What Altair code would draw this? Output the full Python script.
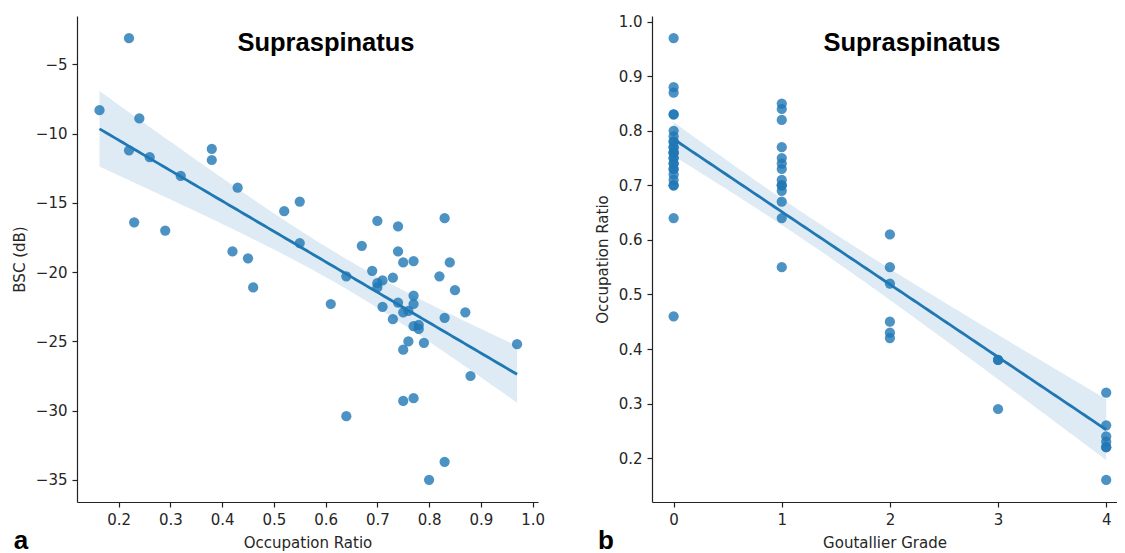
import altair as alt
import numpy as np
import pandas as pd

# ---------- panel a: BSC vs occupation ratio ----------
occ_ratio_a = [0.163, 0.22, 0.24, 0.22, 0.26, 0.23, 0.29, 0.32, 0.38, 0.38,
               0.43, 0.52, 0.55, 0.55, 0.42, 0.45, 0.46, 0.61, 0.64, 0.64,
               0.67, 0.69, 0.70, 0.70, 0.70, 0.71, 0.71, 0.73, 0.73, 0.74,
               0.74, 0.74, 0.75, 0.75, 0.75, 0.75, 0.76, 0.76, 0.77, 0.77,
               0.77, 0.77, 0.77, 0.78, 0.78, 0.79, 0.80, 0.82, 0.83, 0.83,
               0.83, 0.84, 0.85, 0.87, 0.88, 0.97]
bsc_db = [-8.3, -3.1, -8.9, -11.2, -11.7, -16.4, -17.0, -13.05, -11.1, -11.9,
          -13.9, -15.6, -14.9, -17.9, -18.5, -19.0, -21.1, -22.3, -20.3, -30.4,
          -18.1, -19.9, -16.3, -20.8, -21.1, -20.6, -22.5, -20.4, -23.4, -16.7,
          -18.5, -22.2, -19.3, -22.9, -25.6, -29.3, -22.8, -25.0, -19.2, -21.7,
          -22.3, -23.9, -29.1, -23.8, -24.1, -25.1, -35.0, -20.3, -16.1, -23.3,
          -33.7, -19.3, -21.3, -22.9, -27.5, -25.2]

# ---------- panel b: occupation ratio vs Goutallier grade ----------
grade_b = [0, 0, 0, 0, 0, 0, 0, 0, 0, 0, 0, 0, 0, 0, 0, 0, 0, 0, 0, 0, 0, 0, 0, 0, 0, 0,
           1, 1, 1, 1, 1, 1, 1, 1, 1, 1, 1, 1, 1, 1,
           2, 2, 2, 2, 2, 2,
           3, 3, 3,
           4, 4, 4, 4, 4, 4, 4]
occ_ratio_b = [0.97, 0.88, 0.87, 0.83, 0.83, 0.80, 0.79, 0.78, 0.78, 0.77, 0.77, 0.76, 0.76,
               0.76, 0.75, 0.75, 0.74, 0.74, 0.73, 0.73, 0.72, 0.71, 0.70, 0.70, 0.64, 0.46,
               0.85, 0.84, 0.82, 0.77, 0.75, 0.74, 0.73, 0.71, 0.70, 0.70, 0.69, 0.67, 0.64, 0.55,
               0.61, 0.55, 0.52, 0.45, 0.43, 0.42,
               0.38, 0.38, 0.29,
               0.32, 0.26, 0.24, 0.23, 0.22, 0.22, 0.16]

title_text = "Supraspinatus"
BLUE = "#1f77b4"
FONT = "DejaVu Sans"


def fit_band(x, y, n=120):
    x = np.asarray(x, float)
    y = np.asarray(y, float)
    b1, b0 = np.polyfit(x, y, 1)
    xs = np.linspace(x.min(), x.max(), n)
    yhat = b0 + b1 * xs
    resid = y - (b0 + b1 * x)
    dof = len(x) - 2
    s = np.sqrt(np.sum(resid ** 2) / dof)
    xm = x.mean()
    sxx = np.sum((x - xm) ** 2)
    se = s * np.sqrt(1.0 / len(x) + (xs - xm) ** 2 / sxx)
    t = 2.006
    return pd.DataFrame({"x": xs, "fit": yhat, "lo": yhat - t * se, "hi": yhat + t * se})


def panel(xv, yv, xdom, ydom, xticks, yticks, xfmt, yfmt, xtitle, ytitle,
          w, h, title_x, label, label_x):
    pts = pd.DataFrame({"x": xv, "y": yv})
    fit = fit_band(xv, yv)
    xs = alt.Scale(domain=xdom, nice=False, zero=False)
    ys = alt.Scale(domain=ydom, nice=False, zero=False)
    xax = alt.Axis(values=xticks, format=xfmt, title=xtitle)
    yax = alt.Axis(values=yticks, format=yfmt, title=ytitle)
    points = alt.Chart(pts).mark_circle(size=105, color=BLUE, opacity=0.8).encode(
        x=alt.X("x:Q", scale=xs, axis=xax),
        y=alt.Y("y:Q", scale=ys, axis=yax),
    )
    band = alt.Chart(fit).mark_area(color=BLUE, opacity=0.15).encode(
        x=alt.X("x:Q", scale=xs), y=alt.Y("lo:Q", scale=ys), y2="hi:Q"
    )
    line = alt.Chart(fit).mark_line(color=BLUE, strokeWidth=2.8).encode(
        x=alt.X("x:Q", scale=xs), y=alt.Y("fit:Q", scale=ys)
    )
    ttl = alt.Chart(pd.DataFrame({"t": [title_text]})).mark_text(
        font="Liberation Sans", fontSize=25.5, fontWeight="bold", color="black",
        align="center", baseline="alphabetic"
    ).encode(x=alt.value(title_x), y=alt.value(35), text="t:N")
    lab = alt.Chart(pd.DataFrame({"t": [label]})).mark_text(
        font="Liberation Sans", fontSize=26, fontWeight="bold", color="black",
        align="center", baseline="alphabetic"
    ).encode(x=alt.value(label_x), y=alt.value(h + 47), text="t:N")
    return alt.layer(points, band, line, ttl, lab).properties(width=w, height=h)


left = panel(occ_ratio_a, bsc_db, [0.1195, 1.0105], [-36.6, -1.5],
             [0.2, 0.3, 0.4, 0.5, 0.6, 0.7, 0.8, 0.9, 1.0],
             [-35, -30, -25, -20, -15, -10, -5], ".1f", "d",
             "Occupation Ratio", "BSC (dB)", 461, 486, 249, "a", -56)

right = panel(grade_b, occ_ratio_b, [-0.2, 4.1], [0.1195, 1.0105],
              [0, 1, 2, 3, 4],
              [0.2, 0.3, 0.4, 0.5, 0.6, 0.7, 0.8, 0.9, 1.0], "d", ".1f",
              "Goutallier Grade", "Occupation Ratio", 465, 486, 260, "b", -46)

chart = alt.hconcat(left, right, spacing=50).properties(
    padding={"left": 4, "top": 6, "right": 0, "bottom": 0},
    background="white",
).configure_view(stroke=None).configure_axis(
    grid=False,
    domainColor="#222222",
    tickColor="#222222",
    domainWidth=1.2,
    tickWidth=1.2,
    tickSize=5,
    labelFont=FONT,
    labelFontSize=15,
    labelColor="#262626",
    labelPadding=5,
    titleFont=FONT,
    titleFontSize=15,
    titleFontWeight="normal",
    titleColor="#262626",
    titlePadding=8,
)

chart.save("out.html", embed_options={"renderer": "svg", "actions": False})
